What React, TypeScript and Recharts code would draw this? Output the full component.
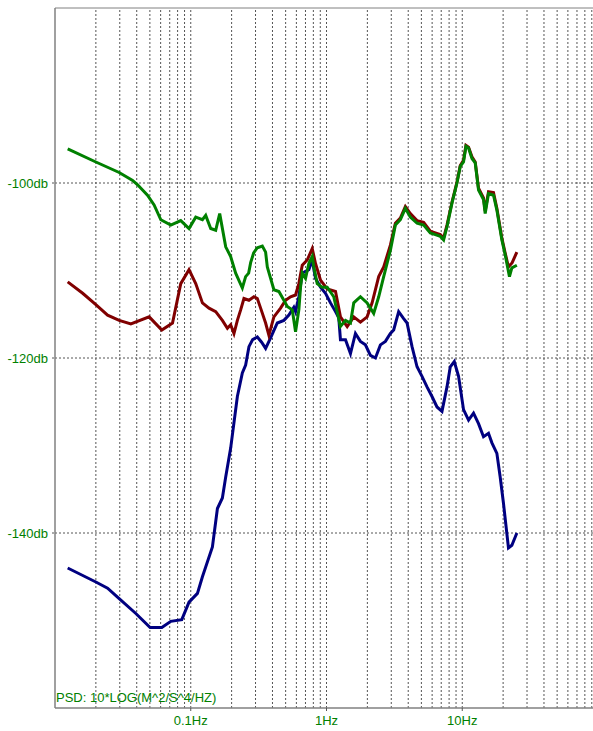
import React from 'react';
import { LineChart, Line, XAxis, YAxis, ReferenceLine } from 'recharts';

const greenFreq = [0.0124, 0.02, 0.0297, 0.0373, 0.0406, 0.048, 0.0537, 0.0602, 0.0713, 0.0844, 0.0971, 0.1088, 0.1219, 0.1289, 0.1403, 0.1527, 0.1634, 0.1809, 0.1968, 0.2142, 0.2399, 0.2537, 0.267, 0.2762, 0.2905, 0.3093, 0.3367, 0.356, 0.3664, 0.3875, 0.4098, 0.446, 0.4772, 0.5141, 0.5596, 0.5916, 0.6256, 0.6439, 0.6628, 0.7008, 0.7411, 0.785, 0.8064, 0.8543, 0.9298, 1.012, 1.131, 1.267, 1.38, 1.502, 1.588, 1.778, 1.992, 2.227, 2.424, 2.638, 2.955, 3.217, 3.5, 3.81, 4.146, 4.645, 5.193, 5.817, 6.333, 6.892, 7.288, 7.719, 8.401, 9.142, 9.667, 10.22, 10.65, 11.13, 11.79, 12.46, 13.18, 14.34, 14.76, 15.61, 16.99, 17.99, 19.58, 20.71, 22.27, 23.2, 25.25];
const greenDb = [-96.1, -97.6, -98.8, -99.7, -100.2, -101.4, -102.5, -104.2, -104.8, -104.3, -105.2, -103.9, -104.2, -103.7, -105.2, -105.4, -103.5, -107.3, -108.4, -110.3, -112.0, -110.7, -110.3, -109.1, -108.0, -107.4, -107.2, -107.9, -109.6, -110.9, -112.2, -112.4, -113.2, -114.1, -114.5, -117.0, -114.5, -111.9, -110.3, -110.9, -109.2, -108.4, -109.6, -111.5, -111.9, -111.9, -113.0, -116.4, -115.7, -116.0, -113.7, -113.0, -113.7, -114.9, -113.0, -110.7, -107.7, -104.8, -104.2, -102.9, -103.9, -104.6, -104.8, -105.7, -105.9, -106.1, -106.5, -105.0, -102.3, -100.0, -98.1, -97.6, -95.8, -96.0, -97.2, -97.7, -100.8, -101.9, -103.5, -101.2, -101.4, -103.1, -106.5, -108.2, -110.7, -109.7, -109.4];

const redFreq = [0.0124, 0.01599, 0.02, 0.0244, 0.0297, 0.0362, 0.0494, 0.0612, 0.0734, 0.0844, 0.0971, 0.1088, 0.1219, 0.1363, 0.1527, 0.171, 0.1862, 0.1968, 0.2082, 0.2205, 0.2332, 0.2465, 0.2684, 0.292, 0.3093, 0.3271, 0.356, 0.3764, 0.4098, 0.4589, 0.4995, 0.5436, 0.5916, 0.6256, 0.6628, 0.7212, 0.785, 0.83, 0.9034, 1.012, 1.165, 1.267, 1.42, 1.588, 1.778, 1.992, 2.168, 2.424, 2.638, 2.955, 3.217, 3.5, 3.81, 4.146, 4.645, 5.193, 5.817, 6.333, 6.892, 7.288, 7.719, 8.401, 9.142, 9.667, 10.22, 10.65, 11.13, 11.79, 12.46, 13.18, 14.34, 14.76, 15.61, 16.99, 17.99, 19.58, 20.71, 21.9, 23.32, 25.25];
const redDb = [-111.3, -112.6, -113.9, -115.1, -115.7, -116.1, -115.3, -116.8, -116.0, -111.5, -109.9, -111.5, -113.7, -114.3, -114.7, -115.7, -116.6, -116.2, -117.2, -115.7, -114.5, -113.2, -113.4, -113.0, -113.2, -114.3, -116.0, -117.4, -115.3, -114.3, -113.4, -113.0, -112.8, -111.5, -109.4, -108.8, -107.5, -109.2, -111.1, -112.1, -112.4, -115.3, -116.4, -115.3, -115.9, -115.3, -113.7, -110.7, -109.6, -107.1, -104.6, -104.0, -102.7, -103.5, -104.3, -104.5, -105.5, -105.7, -105.9, -106.3, -104.8, -102.2, -99.9, -98.0, -97.4, -95.7, -95.9, -97.0, -97.6, -100.6, -101.7, -103.2, -101.0, -101.1, -102.9, -106.3, -108.0, -109.6, -109.1, -107.9];

const blueFreq = [0.0124, 0.02, 0.0244, 0.0297, 0.0394, 0.0502, 0.0612, 0.0713, 0.0859, 0.0971, 0.112, 0.1219, 0.1444, 0.1572, 0.171, 0.1809, 0.1968, 0.2205, 0.2399, 0.2537, 0.2684, 0.2857, 0.3093, 0.3327, 0.356, 0.3875, 0.434, 0.4853, 0.5282, 0.5746, 0.5916, 0.6256, 0.6628, 0.7411, 0.785, 0.83, 0.9034, 0.9832, 1.07, 1.165, 1.231, 1.267, 1.38, 1.502, 1.634, 1.778, 1.935, 2.106, 2.293, 2.495, 2.715, 2.955, 3.126, 3.401, 3.701, 3.921, 4.267, 4.645, 5.054, 5.501, 5.987, 6.516, 7.091, 7.719, 8.162, 8.736, 9.393, 10.22, 11.13, 12.11, 13.18, 14.34, 15.61, 16.54, 17.99, 19.03, 20.12, 21.9, 23.2, 25.25];
const blueDb = [-144.0, -145.6, -146.3, -147.5, -149.2, -150.8, -150.8, -150.1, -149.9, -147.9, -146.9, -145.0, -141.6, -137.2, -136.0, -133.6, -130.3, -124.4, -121.7, -120.8, -118.7, -117.9, -117.6, -118.2, -118.9, -117.7, -116.0, -115.7, -115.1, -114.2, -114.7, -113.0, -110.3, -109.9, -108.8, -110.9, -111.9, -112.6, -113.7, -114.7, -115.4, -117.9, -117.9, -119.5, -117.2, -118.1, -118.5, -119.7, -120.0, -118.5, -118.1, -117.2, -116.8, -114.7, -115.5, -116.0, -118.7, -121.0, -122.1, -123.3, -124.4, -125.6, -126.1, -123.3, -121.0, -120.4, -122.1, -125.9, -127.1, -126.3, -127.5, -129.0, -128.6, -129.7, -130.9, -133.6, -136.6, -141.7, -141.4, -140.0];

const xTicks = [0.1, 1, 10];
const xTickLabels = ['0.1Hz', '1Hz', '10Hz'];
const yTicks = [-140, -120, -100];
const gridFreqs = [0.02, 0.03, 0.04, 0.05, 0.06, 0.07, 0.08, 0.09, 0.1, 0.2, 0.3, 0.4, 0.5, 0.6, 0.7, 0.8, 0.9, 1, 2, 3, 4, 5, 6, 7, 8, 9, 10, 20, 30, 40, 50, 60, 70, 80, 90];
const gridDb = [-140, -120, -100];
const unitLabel = 'PSD: 10*LOG(M^2/S^4/HZ)';

const zip = (fs: number[], ds: number[]) => fs.map((f, i) => ({ f, db: ds[i] }));
const greenData = zip(greenFreq, greenDb);
const redData = zip(redFreq, redDb);
const blueData = zip(blueFreq, blueDb);

const FONT = 'Arial, "Liberation Sans", sans-serif';
const LABEL_GREEN = '#008000';

export default function App() {
  return (
    <div style={{ position: 'absolute', left: 0, top: 0, width: 593, height: 731, overflow: 'hidden', background: '#fff' }}>
      <LineChart width={600} height={731} margin={{ top: 8, right: 2, left: 0, bottom: 0 }}>
        {gridFreqs.map((g) => (
          <ReferenceLine key={'vx' + g} x={g} stroke="#555" strokeDasharray="2 2" strokeWidth={1} />
        ))}
        {gridDb.map((g) => (
          <ReferenceLine key={'hy' + g} y={g} stroke="#555" strokeDasharray="2 2" strokeWidth={1} />
        ))}
        <ReferenceLine y={-80} stroke="#808080" strokeWidth={1} />
        <XAxis
          dataKey="f"
          type="number"
          scale="log"
          domain={[0.01, 100]}
          allowDataOverflow
          ticks={xTicks}
          tickFormatter={(v: number) => xTickLabels[xTicks.indexOf(v)] ?? ''}
          height={23}
          tickSize={3}
          tickMargin={5}
          axisLine={{ stroke: '#808080', strokeWidth: 1.5 }}
          tickLine={{ stroke: '#555' }}
          tick={{ fill: LABEL_GREEN, fontSize: 13, fontFamily: FONT }}
          interval={0}
        />
        <YAxis
          type="number"
          domain={[-160, -80]}
          allowDataOverflow
          ticks={yTicks}
          tickFormatter={(v: number) => `${v}db`}
          width={55}
          tickSize={3}
          tickMargin={4}
          axisLine={{ stroke: '#808080', strokeWidth: 1.5 }}
          tickLine={{ stroke: '#555', strokeDasharray: '2 2' }}
          tick={{ fill: LABEL_GREEN, fontSize: 13, fontFamily: FONT }}
          interval={0}
        />
        <Line data={blueData} dataKey="db" stroke="#000080" strokeWidth={3} dot={false} isAnimationActive={false} />
        <Line data={redData} dataKey="db" stroke="#800000" strokeWidth={3} dot={false} isAnimationActive={false} />
        <Line data={greenData} dataKey="db" stroke="#008000" strokeWidth={3} dot={false} isAnimationActive={false} />
      </LineChart>
      <div style={{ position: 'absolute', left: 56, top: 690, fontFamily: FONT, fontSize: 13, color: LABEL_GREEN, whiteSpace: 'nowrap' }}>
        {unitLabel}
      </div>
    </div>
  );
}
